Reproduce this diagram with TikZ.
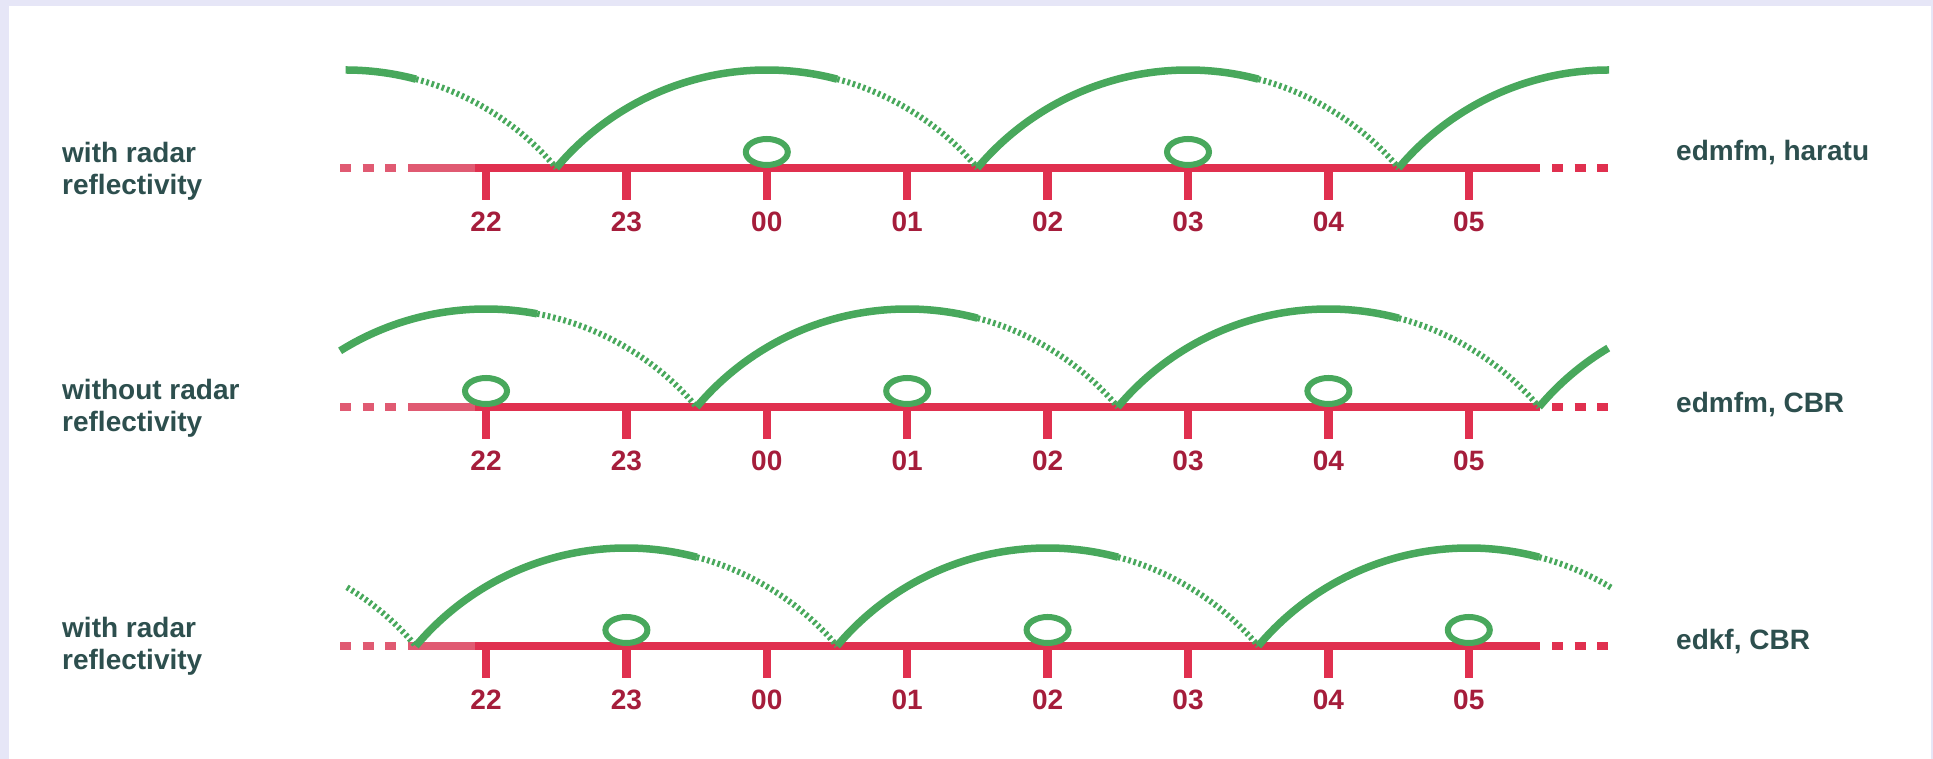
\documentclass[tikz,border=0pt]{standalone}
\usepackage{fontspec}
\setmainfont{Liberation Sans}
\definecolor{framelav}{HTML}{E6E6F7}
\definecolor{axisred}{HTML}{E0304F}
\definecolor{fadered}{HTML}{E05A72}
\definecolor{hourred}{HTML}{A51D3B}
\definecolor{hopgreen}{HTML}{48A85C}
\definecolor{labteal}{HTML}{2D4F4E}
\tikzset{
  axisline/.style={line width=8.5pt, axisred},
  axisfade/.style={line width=8.5pt, fadered},
  dots/.style={dash pattern=on 11pt off 11.5pt},
  tick/.style={line width=8.5pt, axisred},
  hour/.style={font=\fontsize{28}{32}\selectfont\bfseries, text=hourred, inner sep=0pt},
  solidhop/.style={line width=7.5pt, hopgreen},
  dothop/.style={line width=6pt, hopgreen, dash pattern=on 2.6pt off 2.8pt},
  blob/.style={line width=6pt, hopgreen},
  runname/.style={font=\fontsize{28}{32}\selectfont\bfseries, text=labteal, align=left, anchor=west, inner sep=0pt},
  expname/.style={font=\fontsize{28}{32}\selectfont\bfseries, text=labteal, anchor=west, inner sep=0pt}
}
% one piece of a forecast hop: style, centre x, centre y, from angle, to angle
\newcommand{\hop}[5]{\draw[#1] ([shift={(#2,#3)}]#4:275.3) arc[start angle=#4, end angle=#5, radius=275.3];}
\begin{document}
\begin{tikzpicture}[x=1pt, y=1pt, >=stealth]
        \fill[framelav] (0,0) rectangle (1933,759);
        \fill[white] (9,0) rectangle (1931,753);
        \useasboundingbox (0,0) rectangle (1933,759);

        % Baris 1: with radar reflectivity
        \draw[axisfade, dots] (340,591) -- (397,591);
        \draw[axisfade] (408,591) -- (476,591);
        \draw[axisline] (475,591) -- (1540,591);
        \draw[axisline, dots] (1552,591) -- (1608,591);
        \foreach \h [count=\k from 0] in {22,23,00,01,02,03,04,05}
            \draw[tick] (486+140.4*\k,591) -- ++(0,-32) ++(0,-22) node[hour] (ra\k) {\h};
        \hop{solidhop}{345.6}{413.7}{90}{75.2}
        \hop{dothop}{345.6}{413.7}{75.2}{40.1}
        \hop{solidhop}{766.8}{413.7}{139.9}{75.2}
        \hop{dothop}{766.8}{413.7}{75.2}{40.1}
        \hop{solidhop}{1188}{413.7}{139.9}{75.2}
        \hop{dothop}{1188}{413.7}{75.2}{40.1}
        \hop{solidhop}{1609.2}{413.7}{139.9}{90}
        \draw[blob] (766.8,607) ellipse[x radius=21, y radius=13];
        \draw[blob] (1188,607) ellipse[x radius=21, y radius=13];
        \node[runname] (runa) at (62,588) {with radar\\reflectivity};
        \node[expname] (expa) at (1676,606) {edmfm, haratu};

        % Baris 2: without radar reflectivity
        \draw[axisfade, dots] (340,352) -- (397,352);
        \draw[axisfade] (408,352) -- (476,352);
        \draw[axisline] (475,352) -- (1540,352);
        \draw[axisline, dots] (1552,352) -- (1608,352);
        \foreach \h [count=\k from 0] in {22,23,00,01,02,03,04,05}
            \draw[tick] (486+140.4*\k,352) -- ++(0,-32) ++(0,-22) node[hour] (rb\k) {\h};
        \hop{solidhop}{486}{174.7}{122}{79.3}
        \hop{dothop}{486}{174.7}{79.3}{40.1}
        \hop{solidhop}{907.2}{174.7}{139.9}{75.2}
        \hop{dothop}{907.2}{174.7}{75.2}{40.1}
        \hop{solidhop}{1328.4}{174.7}{139.9}{75.2}
        \hop{dothop}{1328.4}{174.7}{75.2}{40.1}
        \hop{solidhop}{1749.6}{174.7}{139.9}{120.9}
        \draw[blob] (486,368) ellipse[x radius=21, y radius=13];
        \draw[blob] (907.2,368) ellipse[x radius=21, y radius=13];
        \draw[blob] (1328.4,368) ellipse[x radius=21, y radius=13];
        \node[runname] (runb) at (62,350.5) {without radar\\reflectivity};
        \node[expname] (expb) at (1676,354) {edmfm, CBR};

        % Baris 3: with radar reflectivity (edkf)
        \draw[axisfade, dots] (340,113) -- (397,113);
        \draw[axisfade] (408,113) -- (476,113);
        \draw[axisline] (475,113) -- (1540,113);
        \draw[axisline, dots] (1552,113) -- (1608,113);
        \foreach \h [count=\k from 0] in {22,23,00,01,02,03,04,05}
            \draw[tick] (486+140.4*\k,113) -- ++(0,-32) ++(0,-22) node[hour] (rc\k) {\h};
        \hop{dothop}{205.2}{-64.3}{59}{40.1}
        \hop{solidhop}{626.4}{-64.3}{139.9}{75.2}
        \hop{dothop}{626.4}{-64.3}{75.2}{40.1}
        \hop{solidhop}{1047.6}{-64.3}{139.9}{75.2}
        \hop{dothop}{1047.6}{-64.3}{75.2}{40.1}
        \hop{solidhop}{1468.8}{-64.3}{139.9}{75.2}
        \hop{dothop}{1468.8}{-64.3}{75.2}{58.7}
        \draw[blob] (626.4,129) ellipse[x radius=21, y radius=13];
        \draw[blob] (1047.6,129) ellipse[x radius=21, y radius=13];
        \draw[blob] (1468.8,129) ellipse[x radius=21, y radius=13];
        \node[runname] (runc) at (62,112.5) {with radar\\reflectivity};
        \node[expname] (expc) at (1676,117) {edkf, CBR};
    \end{tikzpicture}
\end{document}
